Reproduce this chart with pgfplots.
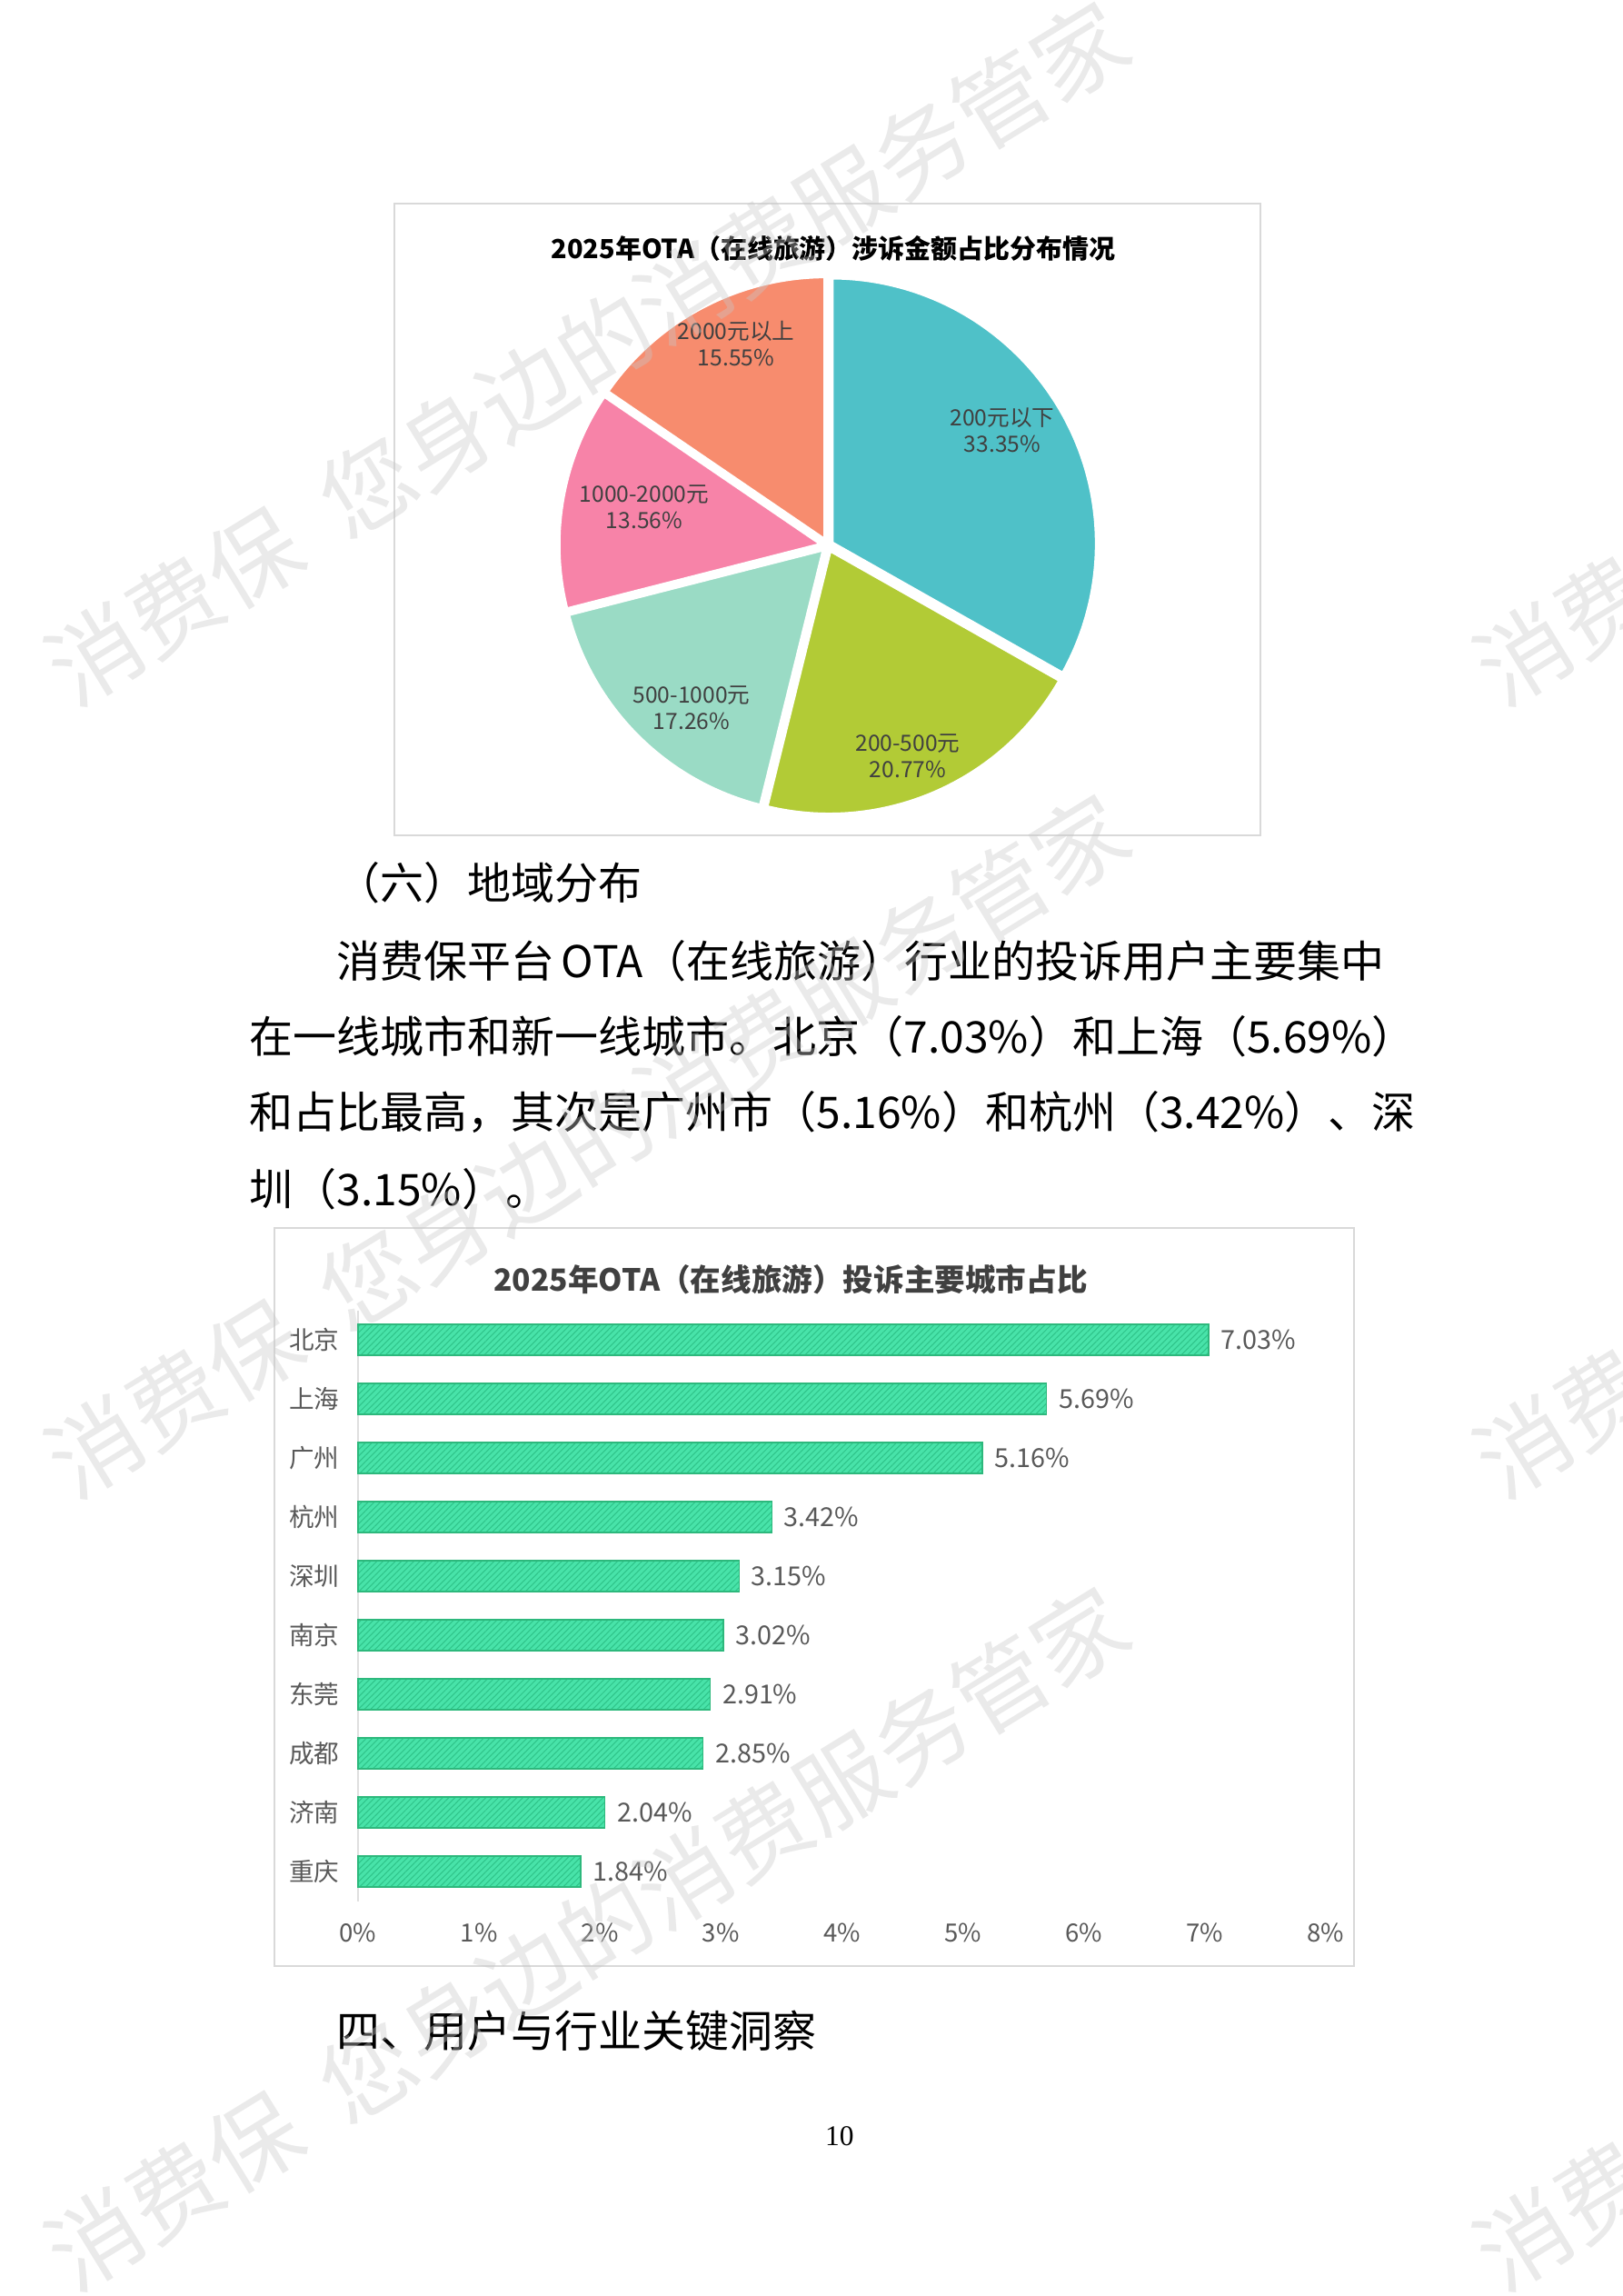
\documentclass[border=0pt]{standalone}
\usepackage{fontspec}
\usepackage{pgfplots}
\usepackage{pgfplotstable}
\pgfplotsset{compat=1.18}
\usetikzlibrary{patterns.meta}
\setmainfont{Noto Sans CJK SC}
\newfontfamily\serif{Liberation Serif}
\XeTeXlinebreaklocale "zh"
\XeTeXlinebreakskip=0pt plus 3pt minus 1pt

\definecolor{cteal}{HTML}{4FC1C8}
\definecolor{cgreen}{HTML}{B2CB36}
\definecolor{cmint}{HTML}{9ADBC5}
\definecolor{cpink}{HTML}{F783A8}
\definecolor{csalmon}{HTML}{F78C6E}
\definecolor{barfill}{HTML}{48E3A9}
\definecolor{barline}{HTML}{2DB87C}
\definecolor{barhatch}{HTML}{2FC48A}
\definecolor{framegray}{HTML}{D9D9D9}
\definecolor{lblgray}{HTML}{404040}
\definecolor{ticgray}{HTML}{595959}
\definecolor{wmgray}{HTML}{C8C8C8}

% pie data (percent)
\def\vA{33.35}\def\vB{20.77}\def\vC{17.26}\def\vD{13.56}\def\vE{15.55}

\pgfplotstableread{
idx city val
0 北京 7.03
1 上海 5.69
2 广州 5.16
3 杭州 3.42
4 深圳 3.15
5 南京 3.02
6 东莞 2.91
7 成都 2.85
8 济南 2.04
9 重庆 1.84
}\citytable

\begin{document}
\begin{tikzpicture}
\useasboundingbox (0,0) rectangle (595.33bp,-842bp);
\fill[white] (0,0) rectangle (595.33bp,-842bp);

\pgfmathsetmacro\T{\vA+\vB+\vC+\vD+\vE}
\pgfmathsetmacro\aA{90}
\pgfmathsetmacro\aB{\aA-360*\vA/\T}
\pgfmathsetmacro\aC{\aB-360*\vB/\T}
\pgfmathsetmacro\aD{\aC-360*\vC/\T}
\pgfmathsetmacro\aE{\aD-360*\vD/\T}
\pgfmathsetmacro\aF{\aE-360*\vE/\T}
\pgfmathsetmacro\mA{(\aA+\aB)/2}
\pgfmathsetmacro\mB{(\aB+\aC)/2}
\pgfmathsetmacro\mC{(\aC+\aD)/2}
\pgfmathsetmacro\mD{(\aD+\aE)/2}
\pgfmathsetmacro\mE{(\aE+\aF)/2}

\begin{scope}[x=0.33333bp,y=-0.33333bp]
% ---------- pie frame & title ----------
\draw[framegray, line width=0.6bp] (434,224) rectangle (1387,919);
\node[font=\bfseries\fontsize{9.65bp}{12bp}\selectfont, text=black] at (917,273)
  {2025年OTA（在线旅游）涉诉金额占比分布情况};
% ---------- text ----------
\begin{scope}[every node/.style={anchor=west, inner sep=0pt, font=\fontsize{16bp}{16bp}\selectfont, text=black}]
\node at (370,971) {（六）地域分布};
\node at (370,1057) {\hbox to 380.3bp{消费保平台 OTA（在线旅游）行业的投诉用户主要集中}};
\node at (274,1140) {\hbox to 412.3bp{在一线城市和新一线城市。北京（7.03\%）和上海（5.69\%）}};
\node at (274,1224) {\hbox to 412.3bp{和占比最高，其次是广州市（5.16\%）和杭州（3.42\%）、深}};
\node at (274,1308) {圳（3.15\%）。};
\node at (370,2234) {四、用户与行业关键洞察};
\end{scope}
\node[font=\serif\fontsize{10.5bp}{12bp}\selectfont] at (924,2350) {10};
% ---------- bar frame & title ----------
\draw[framegray, line width=0.6bp] (302,1351) rectangle (1490,2163);
\node[font=\bfseries\fontsize{11.2bp}{13bp}\selectfont, text=lblgray] at (870,1408)
  {2025年OTA（在线旅游）投诉主要城市占比};
\end{scope}

% ---------- pie chart ----------
\begin{axis}[at={(303.67bp,-200bp)}, anchor=center, x=0.33333bp, y=0.33333bp,
  xmin=-300, xmax=300, ymin=-300, ymax=300, hide axis, clip=false]
\fill[cteal, draw=white, line width=2.2bp, shift={(\mA:1.2bp)}]
  (axis cs:0,0) -- ++(\aA:98bp) arc[start angle=\aA, end angle=\aB, radius=98bp] -- cycle;
\fill[cgreen, draw=white, line width=2.2bp, shift={(\mB:1.2bp)}]
  (axis cs:0,0) -- ++(\aB:98bp) arc[start angle=\aB, end angle=\aC, radius=98bp] -- cycle;
\fill[cmint, draw=white, line width=2.2bp, shift={(\mC:1.2bp)}]
  (axis cs:0,0) -- ++(\aC:98bp) arc[start angle=\aC, end angle=\aD, radius=98bp] -- cycle;
\fill[cpink, draw=white, line width=2.2bp, shift={(\mD:1.2bp)}]
  (axis cs:0,0) -- ++(\aD:98bp) arc[start angle=\aD, end angle=\aE, radius=98bp] -- cycle;
\fill[csalmon, draw=white, line width=2.2bp, shift={(\mE:1.2bp)}]
  (axis cs:0,0) -- ++(\aE:98bp) arc[start angle=\aE, end angle=\aF, radius=98bp] -- cycle;
\begin{scope}[every node/.style={align=center, text=lblgray, inner sep=0pt,
    font=\fontsize{8.2bp}{9.8bp}\selectfont}]
\node at (axis cs:192,127) {200元以下\\\vA\%};
\node at (axis cs:88,-232) {200-500元\\\vB\%};
\node at (axis cs:-150,-179) {500-1000元\\\vC\%};
\node at (axis cs:-202,42) {1000-2000元\\\vD\%};
\node at (axis cs:-101,222) {2000元以上\\\vE\%};
\end{scope}
\end{axis}

% ---------- bar chart ----------
\begin{axis}[at={(131.33bp,-480.5bp)}, anchor=north west, scale only axis,
  width=355bp, height=216.67bp,
  xbar, bar width=11.33bp,
  xmin=0, xmax=8, ymin=-0.5, ymax=9.5, y dir=reverse,
  /pgf/number format/assume math mode=true,
  xtick={0,1,2,3,4,5,6,7,8},
  xticklabels={0\%,1\%,2\%,3\%,4\%,5\%,6\%,7\%,8\%},
  ytick={0,1,2,3,4,5,6,7,8,9},
  yticklabels from table={\citytable}{city},
  axis line style={draw=none}, major tick length=0pt,
  tick label style={font=\fontsize{9.2bp}{11bp}\selectfont, text=ticgray},
  xticklabel style={anchor=center, yshift=-11.5bp},
  yticklabel style={anchor=east, inner sep=0pt, xshift=-6.7bp},
  nodes near coords={\pgfmathprintnumber[fixed,fixed zerofill,precision=2]{\pgfplotspointmeta}\%},
  nodes near coords style={anchor=west, inner sep=0pt, xshift=4.3bp,
    font=\fontsize{9.6bp}{11bp}\selectfont, text=ticgray},
  clip=false]
\draw[gray!25, line width=0.5bp] (axis cs:0,-0.5) -- (axis cs:0,9.5);
\addplot[fill=barfill, draw=barline, line width=0.5bp,
  postaction={pattern={Lines[angle=45,distance=1.6bp,line width=0.35bp]}, pattern color=barhatch}]
  table[x=val, y=idx] {\citytable};
\end{axis}

% ---------- watermarks ----------
\begin{scope}[x=0.33333bp,y=-0.33333bp]
\clip (0,0) rectangle (1786,2526);
\foreach \px/\py in {61/747, 1633/747, 61/1619, 1633/1619, 61/2491, 1633/2491}{
  \node[rotate=31.5, anchor=west, inner sep=0pt, text=wmgray, text opacity=0.38,
    font=\fontsize{34bp}{34bp}\selectfont] at (\px,\py) {消费保\hspace{0.45em}您身边的消费服务管家};
}
\end{scope}
\end{tikzpicture}
\end{document}
